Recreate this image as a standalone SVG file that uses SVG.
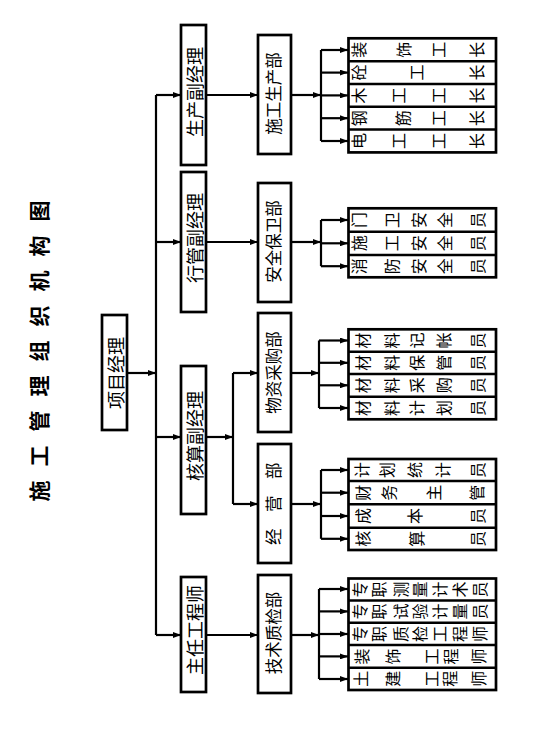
<svg xmlns="http://www.w3.org/2000/svg" width="560" height="739" viewBox="0 0 560 739">
<style>
text{font-family:"Noto Sans CJK SC","Noto Sans CJK TC",sans-serif;fill:#000;dominant-baseline:central}
.box{fill:#fff;stroke:#000;stroke-width:2.7}
.tbl{fill:#fff;stroke:#000;stroke-width:2.7}
.sep{stroke:#000;stroke-width:2.5;fill:none}
.c{fill:none;stroke:#000;stroke-width:2.2}
.a{marker-end:url(#ah)}
.t1{font-size:18px;text-anchor:middle}
.t2{font-size:16.5px;text-anchor:middle}
.r text{font-size:16px;text-anchor:middle}
.title{font-size:21px;font-weight:bold;letter-spacing:14px}
</style>
<defs>
<marker id="ah" markerUnits="userSpaceOnUse" markerWidth="9" markerHeight="6" refX="8" refY="3" orient="auto">
<path d="M0,0 L8,3 L0,6 z" fill="#000"/>
</marker>
</defs>
<rect width="560" height="739" fill="#fff"/>

<g id="title">
<text class="title" transform="translate(38,501.5) rotate(-90)">施工管理组织机构图</text>
</g>

<g id="connectors">
<path class="c a" d="M127,373 H156"/>
<path class="c" d="M156,95 V635"/>
<path class="c a" d="M156,95 H181"/>
<path class="c a" d="M156,242 H181"/>
<path class="c a" d="M156,437 H181"/>
<path class="c a" d="M156,635 H181"/>
<path class="c a" d="M206,95 H258"/>
<path class="c a" d="M206,242 H258"/>
<path class="c a" d="M206,437 H233"/>
<path class="c" d="M233,373 V504"/>
<path class="c a" d="M233,373 H258"/>
<path class="c a" d="M233,504 H258"/>
<path class="c a" d="M206,635 H258"/>

<path class="c a" d="M291,95 H321"/>
<path class="c" d="M321,50 V141"/>
<path class="c a" d="M321,50 H348"/>
<path class="c a" d="M321,72.6 H348"/>
<path class="c a" d="M321,95.4 H348"/>
<path class="c a" d="M321,118.2 H348"/>
<path class="c a" d="M321,141 H348"/>

<path class="c a" d="M291,242 H321"/>
<path class="c" d="M321,220 V266.2"/>
<path class="c a" d="M321,220 H348"/>
<path class="c a" d="M321,243.3 H348"/>
<path class="c a" d="M321,266.2 H348"/>

<path class="c a" d="M291,373 H319"/>
<path class="c" d="M319,340.5 V408"/>
<path class="c a" d="M319,340.5 H348"/>
<path class="c a" d="M319,362.8 H348"/>
<path class="c a" d="M319,385.3 H348"/>
<path class="c a" d="M319,408 H348"/>

<path class="c a" d="M291,504 H321"/>
<path class="c" d="M321,470 V538.8"/>
<path class="c a" d="M321,470 H348"/>
<path class="c a" d="M321,492.7 H348"/>
<path class="c a" d="M321,516 H348"/>
<path class="c a" d="M321,538.8 H348"/>

<path class="c a" d="M291,635 H319"/>
<path class="c" d="M319,589 V679"/>
<path class="c a" d="M319,589 H348"/>
<path class="c a" d="M319,611.4 H348"/>
<path class="c a" d="M319,634 H348"/>
<path class="c a" d="M319,656.4 H348"/>
<path class="c a" d="M319,679 H348"/>
</g>

<g id="pm">
<rect class="box" x="102" y="315" width="25" height="115"/>
<text class="t1" transform="translate(115,373) rotate(-90)">项目经理</text>
</g>

<g id="vp-production">
<rect class="box" x="181" y="25" width="25" height="140"/>
<text class="t1" transform="translate(193.5,92) rotate(-90)">生产副经理</text>
</g>
<g id="vp-admin">
<rect class="box" x="181" y="172" width="25" height="140"/>
<text class="t1" transform="translate(193.5,238) rotate(-90)">行管副经理</text>
</g>
<g id="vp-accounting">
<rect class="box" x="181" y="366" width="25" height="148"/>
<text class="t1" transform="translate(193.5,436) rotate(-90)">核算副经理</text>
</g>
<g id="chief-engineer">
<rect class="box" x="181" y="577" width="25" height="115"/>
<text class="t1" transform="translate(193.5,630) rotate(-90)">主任工程师</text>
</g>

<g id="dept-production">
<rect class="box" x="258" y="35" width="33" height="119"/>
<text class="t2" transform="translate(273,93.5) rotate(-90)">施工生产部</text>
</g>
<g id="dept-security">
<rect class="box" x="258" y="183" width="33" height="119"/>
<text class="t2" transform="translate(273,241.5) rotate(-90)">安全保卫部</text>
</g>
<g id="dept-purchase">
<rect class="box" x="258" y="313" width="33" height="119"/>
<text class="t2" transform="translate(273,372.5) rotate(-90)">物资采购部</text>
</g>
<g id="dept-business">
<rect class="box" x="258" y="444" width="33" height="119"/>
<text class="t2" style="text-anchor:start;letter-spacing:16.5px" transform="translate(273,545) rotate(-90)">经营部</text>
</g>
<g id="dept-tech">
<rect class="box" x="258" y="575" width="33" height="118"/>
<text class="t2" transform="translate(273,633) rotate(-90)">技术质检部</text>
</g>

<g id="roles-production" class="r">
<rect class="tbl" x="348.5" y="38.3" width="147.5" height="114.1"/>
<path class="sep" d="M348.5,61.2 H496 M348.5,84 H496 M348.5,106.8 H496 M348.5,129.6 H496"/>
<text transform="translate(357.5,49.8) rotate(-90)">装</text>
<text transform="translate(402.5,49.8) rotate(-90)">饰</text>
<text transform="translate(437.5,49.8) rotate(-90)">工</text>
<text transform="translate(476,49.8) rotate(-90)">长</text>
<text transform="translate(357.5,72.6) rotate(-90)">砼</text>
<text transform="translate(415.8,72.6) rotate(-90)">工</text>
<text transform="translate(476,72.6) rotate(-90)">长</text>
<text transform="translate(357.5,95.4) rotate(-90)">木</text>
<text transform="translate(398.3,95.4) rotate(-90)">工</text>
<text transform="translate(437.5,95.4) rotate(-90)">工</text>
<text transform="translate(476,95.4) rotate(-90)">长</text>
<text transform="translate(358,118.2) rotate(-90)">钢</text>
<text transform="translate(402,118.2) rotate(-90)">筋</text>
<text transform="translate(437.5,118.2) rotate(-90)">工</text>
<text transform="translate(476,118.2) rotate(-90)">长</text>
<text transform="translate(357.5,141) rotate(-90)">电</text>
<text transform="translate(398.3,141) rotate(-90)">工</text>
<text transform="translate(437.5,141) rotate(-90)">工</text>
<text transform="translate(476,141) rotate(-90)">长</text>
</g>

<g id="roles-security" class="r">
<rect class="tbl" x="348.5" y="208.3" width="147.5" height="69"/>
<path class="sep" d="M348.5,231.7 H496 M348.5,255 H496"/>
<text transform="translate(357.5,220) rotate(-90)">门</text>
<text transform="translate(390.8,220) rotate(-90)">卫</text>
<text transform="translate(417.5,220) rotate(-90)">安</text>
<text transform="translate(444,220) rotate(-90)">全</text>
<text transform="translate(476.7,220) rotate(-90)">员</text>
<text transform="translate(357.5,243.3) rotate(-90)">施</text>
<text transform="translate(390.8,243.3) rotate(-90)">工</text>
<text transform="translate(417.5,243.3) rotate(-90)">安</text>
<text transform="translate(444,243.3) rotate(-90)">全</text>
<text transform="translate(476.7,243.3) rotate(-90)">员</text>
<text transform="translate(357.5,266.2) rotate(-90)">消</text>
<text transform="translate(390.8,266.2) rotate(-90)">防</text>
<text transform="translate(417.5,266.2) rotate(-90)">安</text>
<text transform="translate(444,266.2) rotate(-90)">全</text>
<text transform="translate(476.7,266.2) rotate(-90)">员</text>
</g>

<g id="roles-purchase" class="r">
<rect class="tbl" x="348.5" y="329.3" width="147.5" height="90"/>
<path class="sep" d="M348.5,351.7 H496 M348.5,374 H496 M348.5,396.7 H496"/>
<text transform="translate(361.7,340.5) rotate(-90)">材</text>
<text transform="translate(390.8,340.5) rotate(-90)">料</text>
<text transform="translate(415.8,340.5) rotate(-90)">记</text>
<text transform="translate(442.5,340.5) rotate(-90)">帐</text>
<text transform="translate(476.7,340.5) rotate(-90)">员</text>
<text transform="translate(361.7,362.8) rotate(-90)">材</text>
<text transform="translate(390.8,362.8) rotate(-90)">料</text>
<text transform="translate(415.8,362.8) rotate(-90)">保</text>
<text transform="translate(442.5,362.8) rotate(-90)">管</text>
<text transform="translate(476.7,362.8) rotate(-90)">员</text>
<text transform="translate(361.7,385.3) rotate(-90)">材</text>
<text transform="translate(390.8,385.3) rotate(-90)">料</text>
<text transform="translate(415.8,385.3) rotate(-90)">采</text>
<text transform="translate(442.5,385.3) rotate(-90)">购</text>
<text transform="translate(476.7,385.3) rotate(-90)">员</text>
<text transform="translate(361.7,408) rotate(-90)">材</text>
<text transform="translate(390.8,408) rotate(-90)">料</text>
<text transform="translate(415.8,408) rotate(-90)">计</text>
<text transform="translate(442.5,408) rotate(-90)">划</text>
<text transform="translate(476.7,408) rotate(-90)">员</text>
</g>

<g id="roles-business" class="r">
<rect class="tbl" x="348.5" y="459" width="147.5" height="91"/>
<path class="sep" d="M348.5,481 H496 M348.5,504.3 H496 M348.5,527.7 H496"/>
<text transform="translate(360.7,470) rotate(-90)">计</text>
<text transform="translate(385.7,470) rotate(-90)">划</text>
<text transform="translate(414,470) rotate(-90)">统</text>
<text transform="translate(442.3,470) rotate(-90)">计</text>
<text transform="translate(476.7,470) rotate(-90)">员</text>
<text transform="translate(361.7,492.7) rotate(-90)">财</text>
<text transform="translate(388.3,492.7) rotate(-90)">务</text>
<text transform="translate(432.7,492.7) rotate(-90)">主</text>
<text transform="translate(476,492.7) rotate(-90)">管</text>
<text transform="translate(361.7,516) rotate(-90)">成</text>
<text transform="translate(414,516) rotate(-90)">本</text>
<text transform="translate(476.7,516) rotate(-90)">员</text>
<text transform="translate(361.7,538.8) rotate(-90)">核</text>
<text transform="translate(415.7,538.8) rotate(-90)">算</text>
<text transform="translate(476.7,538.8) rotate(-90)">员</text>
</g>

<g id="roles-tech" class="r">
<rect class="tbl" x="348.5" y="578.5" width="147.5" height="111.5"/>
<path class="sep" d="M348.5,600.5 H496 M348.5,622.7 H496 M348.5,645 H496 M348.5,667.7 H496"/>
<text transform="translate(359,589.5) rotate(-90)">专</text>
<text transform="translate(378.3,589.5) rotate(-90)">职</text>
<text transform="translate(400,589.5) rotate(-90)">测</text>
<text transform="translate(419,589.5) rotate(-90)">量</text>
<text transform="translate(439,589.5) rotate(-90)">计</text>
<text transform="translate(459,589.5) rotate(-90)">术</text>
<text transform="translate(479,589.5) rotate(-90)">员</text>
<text transform="translate(359,611.6) rotate(-90)">专</text>
<text transform="translate(378.3,611.6) rotate(-90)">职</text>
<text transform="translate(400,611.6) rotate(-90)">试</text>
<text transform="translate(419,611.6) rotate(-90)">验</text>
<text transform="translate(439,611.6) rotate(-90)">计</text>
<text transform="translate(459,611.6) rotate(-90)">量</text>
<text transform="translate(479,611.6) rotate(-90)">员</text>
<text transform="translate(359,633.9) rotate(-90)">专</text>
<text transform="translate(378.3,633.9) rotate(-90)">职</text>
<text transform="translate(400,633.9) rotate(-90)">质</text>
<text transform="translate(419,633.9) rotate(-90)">检</text>
<text transform="translate(439,633.9) rotate(-90)">工</text>
<text transform="translate(459,633.9) rotate(-90)">程</text>
<text transform="translate(479,633.9) rotate(-90)">师</text>
<text transform="translate(360.7,656.4) rotate(-90)">装</text>
<text transform="translate(391.7,656.4) rotate(-90)">饰</text>
<text transform="translate(430.7,656.4) rotate(-90)">工</text>
<text transform="translate(450,656.4) rotate(-90)">程</text>
<text transform="translate(477.7,656.4) rotate(-90)">师</text>
<text transform="translate(360,678.8) rotate(-90)">土</text>
<text transform="translate(391.7,678.8) rotate(-90)">建</text>
<text transform="translate(430.7,678.8) rotate(-90)">工</text>
<text transform="translate(449.3,678.8) rotate(-90)">程</text>
<text transform="translate(478,678.8) rotate(-90)">师</text>
</g>
</svg>
